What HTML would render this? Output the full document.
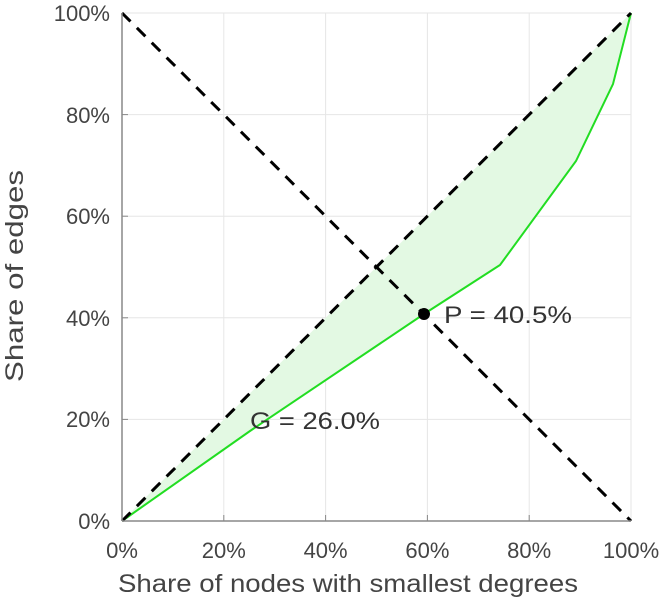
<!DOCTYPE html>
<html><head><style>body{margin:0;background:#fff}svg{display:block}</style></head><body>
<svg width="668" height="600" xmlns="http://www.w3.org/2000/svg" font-family="Liberation Sans, sans-serif">
<g stroke="#e6e6e6" stroke-width="1">
<line x1="223.8" y1="13" x2="223.8" y2="521"/><line x1="325.6" y1="13" x2="325.6" y2="521"/><line x1="427.4" y1="13" x2="427.4" y2="521"/><line x1="529.2" y1="13" x2="529.2" y2="521"/><line x1="631" y1="13" x2="631" y2="521"/>
<line x1="122" y1="419.4" x2="631" y2="419.4"/><line x1="122" y1="317.8" x2="631" y2="317.8"/><line x1="122" y1="216.2" x2="631" y2="216.2"/><line x1="122" y1="114.6" x2="631" y2="114.6"/><line x1="122" y1="13" x2="631" y2="13"/>
</g>
<polygon points="122,521 250,431 424,314 500,265 576,161 613,84 631,13" fill="#e3f9e3"/>
<polyline points="122,521 250,431 424,314 500,265 576,161 613,84 631,13" fill="none" stroke="#22dd22" stroke-width="2"/>
<line x1="122" y1="521" x2="631" y2="13" stroke="#000" stroke-width="3" stroke-dasharray="12,9"/>
<line x1="122" y1="13" x2="631" y2="521" stroke="#000" stroke-width="3" stroke-dasharray="12,9"/>
<line x1="122" y1="13" x2="122" y2="521" stroke="#888" stroke-width="1.5"/>
<line x1="122" y1="521" x2="631" y2="521" stroke="#888" stroke-width="1.5"/>
<g stroke="#888"><line x1="223.8" y1="521" x2="223.8" y2="515"/><line x1="325.6" y1="521" x2="325.6" y2="515"/><line x1="427.4" y1="521" x2="427.4" y2="515"/><line x1="529.2" y1="521" x2="529.2" y2="515"/>
<line x1="122" y1="419.4" x2="128" y2="419.4"/><line x1="122" y1="317.8" x2="128" y2="317.8"/><line x1="122" y1="216.2" x2="128" y2="216.2"/><line x1="122" y1="114.6" x2="128" y2="114.6"/></g>
<circle cx="424" cy="314" r="6" fill="#000"/>
<g font-size="24" fill="#333">
<text x="444" y="323" textLength="128" lengthAdjust="spacingAndGlyphs">P = 40.5%</text>
<text x="250" y="429" textLength="130" lengthAdjust="spacingAndGlyphs">G = 26.0%</text>
</g>
<g font-size="22" fill="#444" text-anchor="end">
<text x="110" y="529">0%</text><text x="110" y="427">20%</text><text x="110" y="326">40%</text><text x="110" y="224">60%</text><text x="110" y="123">80%</text><text x="110" y="21">100%</text>
</g>
<g font-size="22" fill="#444" text-anchor="middle">
<text x="122" y="558">0%</text><text x="223.8" y="558">20%</text><text x="325.6" y="558">40%</text><text x="427.4" y="558">60%</text><text x="529.2" y="558">80%</text><text x="631" y="558">100%</text>
</g>
<text x="118" y="592" font-size="25" fill="#444" textLength="460" lengthAdjust="spacingAndGlyphs">Share of nodes with smallest degrees</text>
<text transform="translate(23,382) rotate(-90)" font-size="25" fill="#444" textLength="212" lengthAdjust="spacingAndGlyphs">Share of edges</text>
</svg>
</body></html>
